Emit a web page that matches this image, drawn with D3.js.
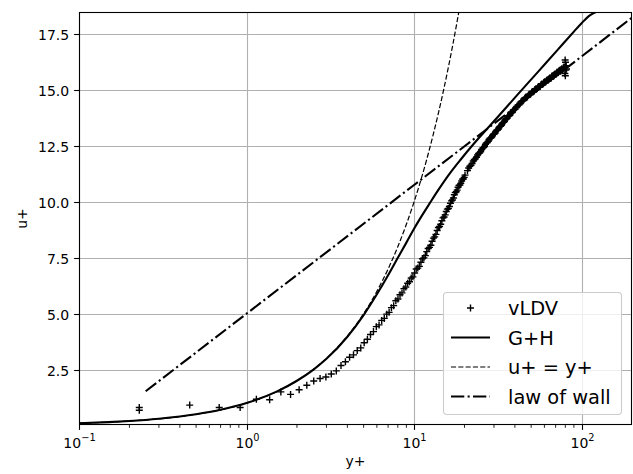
<!DOCTYPE html>
<html>
<head>
<meta charset="utf-8">
<script src="https://cdn.jsdelivr.net/npm/d3@7"></script>
<style>
  html, body { margin: 0; padding: 0; background: #ffffff; }
  svg { display: block; font-family: "DejaVu Sans", sans-serif; }
</style>
</head>
<body>
<svg id="chart" width="633" height="474"></svg>
<script>
// Measured velocity profile (vLDV), wall units
const vldvYPlus = [
  0.229, 0.229, 0.458, 0.687, 0.916, 1.145, 1.374, 1.603, 1.832, 2.061,
  2.29, 2.519, 2.748, 2.977, 3.206, 3.435, 3.664, 3.893, 4.122, 4.351,
  4.58, 4.809, 5.038, 5.267, 5.496, 5.725, 5.954, 6.183, 6.412, 6.641,
  6.87, 7.099, 7.328, 7.557, 7.786, 8.015, 8.244, 8.473, 8.702, 8.931,
  9.16, 9.389, 9.618, 9.847, 10.076,
  10.30, 10.53, 10.76, 10.99, 11.22, 11.45, 11.68, 11.91, 12.14, 12.37,
  12.60, 12.82, 13.05, 13.28, 13.51, 13.74, 13.97, 14.20, 14.43, 14.66,
  14.89, 15.11, 15.34, 15.57, 15.80, 16.03, 16.26, 16.49, 16.72, 16.95,
  17.18, 17.40, 17.63, 17.86, 18.09, 18.32, 18.55, 18.78, 19.01, 19.24,
  19.47, 19.69, 19.92, 20.15,
  20.84, 21.19, 21.53, 21.87, 22.21, 22.56, 22.90, 23.25, 23.59, 23.93,
  24.27, 24.62, 24.96, 25.31, 25.65, 25.99, 26.34, 26.68, 27.02, 27.37,
  27.71, 28.05, 28.40, 28.74, 29.08, 29.43, 29.77, 30.11, 30.46, 30.80,
  31.14, 31.49, 31.83, 32.17, 32.52, 32.86, 33.21, 33.55, 33.89, 34.24,
  34.58, 34.92, 35.27, 35.61, 35.95, 36.30, 36.64, 36.98, 37.33, 37.67,
  38.01, 38.36, 38.70, 39.04, 39.39, 39.73, 40.08,
  40.65, 41.22, 41.80, 42.37, 42.94, 43.51, 44.09, 44.66, 45.23, 45.80,
  46.38, 46.95, 47.52, 48.09, 48.67, 49.24, 49.81, 50.38, 50.96, 51.53,
  52.10, 52.67, 53.25, 53.82, 54.39, 54.96, 55.54, 56.11, 56.68, 57.25,
  57.83, 58.40, 58.97, 59.54, 60.12, 60.69, 61.26, 61.83, 62.41, 62.98,
  63.55, 64.12, 64.70, 65.27, 65.84, 66.41, 66.99, 67.56, 68.13, 68.70,
  69.28, 69.85, 70.42, 70.99, 71.57, 72.14, 72.71, 73.28, 73.86, 74.43,
  75.00, 75.57, 76.15, 76.72, 77.29, 77.86, 78.44, 79.01,
  79.5, 80.2, 80.6, 81.0, 80.0, 79.8, 81.3
];
const vldvUPlus = [
  0.80, 0.68, 0.91, 0.80, 0.80, 1.17, 1.15, 1.50, 1.39, 1.60,
  1.80, 1.99, 2.10, 2.17, 2.30, 2.44, 2.68, 2.85, 3.05, 3.16,
  3.35, 3.47, 3.70, 3.86, 4.07, 4.20, 4.42, 4.50, 4.70, 4.79,
  4.98, 5.06, 5.27, 5.36, 5.58, 5.66, 5.85, 5.93, 6.12, 6.19,
  6.36, 6.43, 6.60, 6.65, 6.82,
  7.00, 7.04, 7.12, 7.30, 7.46, 7.50, 7.60, 7.78, 7.92, 7.97,
  8.06, 8.24, 8.38, 8.44, 8.55, 8.72, 8.86, 8.90, 9.00, 9.16,
  9.29, 9.33, 9.42, 9.57, 9.68, 9.71, 9.80, 9.94, 10.05, 10.09,
  10.18, 10.32, 10.42, 10.46, 10.53, 10.66, 10.74, 10.76, 10.83, 10.94,
  11.02, 11.03, 11.10, 11.20,
  11.40, 11.52, 11.60, 11.64, 11.72, 11.83, 11.90, 11.93, 12.00, 12.10,
  12.17, 12.19, 12.25, 12.35, 12.41, 12.43, 12.48, 12.58, 12.64, 12.66,
  12.71, 12.80, 12.85, 12.86, 12.90, 12.98, 13.03, 13.04, 13.08, 13.16,
  13.21, 13.22, 13.26, 13.33, 13.38, 13.39, 13.43, 13.50, 13.55, 13.56,
  13.60, 13.67, 13.72, 13.72, 13.75, 13.82, 13.86, 13.86, 13.89, 13.96,
  14.00, 14.00, 14.03, 14.09, 14.13, 14.13, 14.15,
  14.23, 14.29, 14.34, 14.35, 14.40, 14.48, 14.52, 14.53, 14.57, 14.64,
  14.68, 14.67, 14.71, 14.78, 14.82, 14.81, 14.84, 14.91, 14.94, 14.93,
  14.96, 15.03, 15.06, 15.05, 15.08, 15.14, 15.17, 15.15, 15.18, 15.25,
  15.28, 15.26, 15.29, 15.35, 15.38, 15.36, 15.38, 15.44, 15.47, 15.45,
  15.47, 15.53, 15.56, 15.53, 15.55, 15.62, 15.65, 15.62, 15.63, 15.70,
  15.73, 15.70, 15.71, 15.78, 15.81, 15.78, 15.79, 15.86, 15.89, 15.85,
  15.86, 15.93, 15.96, 15.93, 15.93, 16.00, 16.04, 16.02,
  15.75, 16.25, 15.90, 16.10, 15.65, 16.35, 15.95
];

// Gersten & Herwig wall law
const ghYPlus = [0.1, 0.15, 0.2, 0.3, 0.4, 0.5, 0.7, 1, 1.5, 2, 2.5, 3, 4, 5, 6, 7, 8, 9, 10, 11,
  12.5, 14, 16.4, 19, 22.6, 26, 31.2, 38, 49.3, 62, 78, 90, 100, 112, 122, 135, 160, 200];
const ghUPlus = [0.1, 0.15, 0.2, 0.3, 0.4, 0.5, 0.7, 1.0, 1.5, 2.0, 2.49, 2.98, 3.97, 4.94, 5.87, 6.72, 7.5, 8.18, 8.8, 9.32,
  9.98, 10.55, 11.29, 11.9, 12.58, 13.1, 13.76, 14.48, 15.43, 16.26, 17.1, 17.62, 18.0, 18.35, 18.5, 18.58, 18.6, 18.6];

// Viscous sublayer u+ = y+
const linYPlus = [0.1, 0.2, 0.5, 1, 2, 3, 4, 5, 6, 7, 8, 9, 10, 11, 12, 13, 14, 15, 16, 17, 18, 19, 20];
const linUPlus = [0.1, 0.2, 0.5, 1, 2, 3, 4, 5, 6, 7, 8, 9, 10, 11, 12, 13, 14, 15, 16, 17, 18, 19, 20];

// Log law of the wall
const lawYPlus = [0.25, 1, 10, 100, 200];
const lawUPlus = [1.53, 5.0, 10.76, 16.51, 18.25];

// Axis ticks
const xTickValues = [0.1, 1, 10, 100];
const xTickExponents = ["\u22121", "0", "1", "2"];
const yTickValues = [2.5, 5.0, 7.5, 10.0, 12.5, 15.0, 17.5];
const yTickLabels = ["2.5", "5.0", "7.5", "10.0", "12.5", "15.0", "17.5"];

const legendLabels = ["vLDV", "G+H", "u+ = y+", "law of wall"];

const plot = { left: 79, right: 632, top: 12, bottom: 425 };

const svg = d3.select("#chart");

const x = d3.scaleLog().domain([0.1, 200]).range([plot.left, plot.right]);
const y = d3.scaleLinear().domain([0.02, 18.5]).range([plot.bottom, plot.top]);

svg.append("defs").append("clipPath").attr("id", "plotClip")
  .append("rect")
  .attr("x", plot.left).attr("y", plot.top)
  .attr("width", plot.right - plot.left).attr("height", plot.bottom - plot.top);

// Grid
const grid = svg.append("g").attr("stroke", "#b0b0b0").attr("stroke-width", 1.1);
xTickValues.forEach(v => {
  const px = Math.round(x(v)) + 0.5;
  grid.append("line").attr("x1", px).attr("x2", px).attr("y1", plot.top).attr("y2", plot.bottom);
});
yTickValues.forEach(v => {
  const py = Math.round(y(v)) + 0.5;
  grid.append("line").attr("x1", plot.left).attr("x2", plot.right).attr("y1", py).attr("y2", py);
});

const layer = svg.append("g").attr("clip-path", "url(#plotClip)");

// vLDV markers
const plusPath = s => `M${-s},0H${s}M0,${-s}V${s}`;
layer.append("g").selectAll("path")
  .data(d3.range(vldvYPlus.length))
  .join("path")
  .attr("transform", i => `translate(${x(vldvYPlus[i])},${y(vldvUPlus[i])})`)
  .attr("d", plusPath(3.5))
  .attr("stroke", "#000").attr("stroke-width", 1.4).attr("fill", "none");

const line = d3.line().x(d => x(d[0])).y(d => y(d[1])).curve(d3.curveMonotoneX);

layer.append("path")
  .attr("d", line(ghYPlus.map((v, i) => [v, ghUPlus[i]])))
  .attr("fill", "none").attr("stroke", "#000").attr("stroke-width", 2.1);

layer.append("path")
  .attr("d", line(linYPlus.map((v, i) => [v, linUPlus[i]])))
  .attr("fill", "none").attr("stroke", "#000").attr("stroke-width", 1.2)
  .attr("stroke-dasharray", "5.1,2.2");

layer.append("path")
  .attr("d", d3.line().x(d => x(d[0])).y(d => y(d[1]))(lawYPlus.map((v, i) => [v, lawUPlus[i]])))
  .attr("fill", "none").attr("stroke", "#000").attr("stroke-width", 2.1)
  .attr("stroke-dasharray", "13.3,3.3,2.1,3.3");

// Spines
const spines = svg.append("g").attr("stroke", "#000").attr("stroke-width", 1.1).attr("fill", "none");
spines.append("rect")
  .attr("x", plot.left + 0.5).attr("y", plot.top + 0.5)
  .attr("width", plot.right - plot.left - 1).attr("height", plot.bottom - plot.top - 1);

// X axis (log) with minor ticks
const xAxis = svg.append("g");
const minorTicks = [];
[0.1, 1, 10, 100].forEach(dec => {
  for (let m = 2; m <= 9; m++) {
    const v = dec * m;
    if (v < 200) minorTicks.push(v);
  }
});
minorTicks.forEach(v => {
  const px = x(v);
  xAxis.append("line").attr("x1", px).attr("x2", px)
    .attr("y1", plot.bottom).attr("y2", plot.bottom + 2.8)
    .attr("stroke", "#000").attr("stroke-width", 0.85);
});
xTickValues.forEach((v, i) => {
  const px = Math.round(x(v)) + 0.5;
  xAxis.append("line").attr("x1", px).attr("x2", px)
    .attr("y1", plot.bottom).attr("y2", plot.bottom + 4.9)
    .attr("stroke", "#000").attr("stroke-width", 1.1);
  const t = xAxis.append("text")
    .attr("x", px).attr("y", 447.5)
    .attr("text-anchor", "middle")
    .attr("font-size", 14).attr("fill", "#000");
  t.append("tspan").text("10");
  t.append("tspan").attr("dy", -6.5).attr("font-size", 9.8).text(xTickExponents[i]);
});

// Y axis
const yAxis = svg.append("g");
yTickValues.forEach((v, i) => {
  const py = Math.round(y(v)) + 0.5;
  yAxis.append("line").attr("x1", plot.left - 4.9).attr("x2", plot.left)
    .attr("y1", py).attr("y2", py)
    .attr("stroke", "#000").attr("stroke-width", 1.1);
  yAxis.append("text")
    .attr("x", plot.left - 9.8).attr("y", py + 5)
    .attr("text-anchor", "end")
    .attr("font-size", 14).attr("fill", "#000")
    .text(yTickLabels[i]);
});

// Axis titles
svg.append("text")
  .attr("x", (plot.left + plot.right) / 2).attr("y", 466)
  .attr("text-anchor", "middle").attr("font-size", 14).text("y+");
svg.append("text")
  .attr("transform", `translate(27,${(plot.top + plot.bottom) / 2}) rotate(-90)`)
  .attr("text-anchor", "middle").attr("font-size", 14).text("u+");

// Legend
const legend = svg.append("g");
legend.append("rect")
  .attr("x", 443.5).attr("y", 292.5).attr("width", 178).attr("height", 122)
  .attr("rx", 3.5).attr("ry", 3.5)
  .attr("fill", "#ffffff").attr("fill-opacity", 0.8)
  .attr("stroke", "#cccccc").attr("stroke-width", 1.1);

const rowY = [308, 337.5, 367, 396.5];
const hx0 = 451, hx1 = 490;
legend.append("path")
  .attr("transform", `translate(${(hx0 + hx1) / 2},${rowY[0]})`)
  .attr("d", plusPath(3.5))
  .attr("stroke", "#000").attr("stroke-width", 1.4).attr("fill", "none");
legend.append("line").attr("x1", hx0).attr("x2", hx1).attr("y1", rowY[1]).attr("y2", rowY[1])
  .attr("stroke", "#000").attr("stroke-width", 2.1);
legend.append("line").attr("x1", hx0).attr("x2", hx1).attr("y1", rowY[2]).attr("y2", rowY[2])
  .attr("stroke", "#000").attr("stroke-width", 1.2).attr("stroke-dasharray", "5.1,2.2");
legend.append("line").attr("x1", hx0).attr("x2", hx1).attr("y1", rowY[3]).attr("y2", rowY[3])
  .attr("stroke", "#000").attr("stroke-width", 2.1).attr("stroke-dasharray", "13.3,3.3,2.1,3.3");

legendLabels.forEach((lab, i) => {
  legend.append("text")
    .attr("x", 508).attr("y", rowY[i] + 7)
    .attr("font-size", 19.4).attr("fill", "#000")
    .text(lab);
});
</script>
</body>
</html>
